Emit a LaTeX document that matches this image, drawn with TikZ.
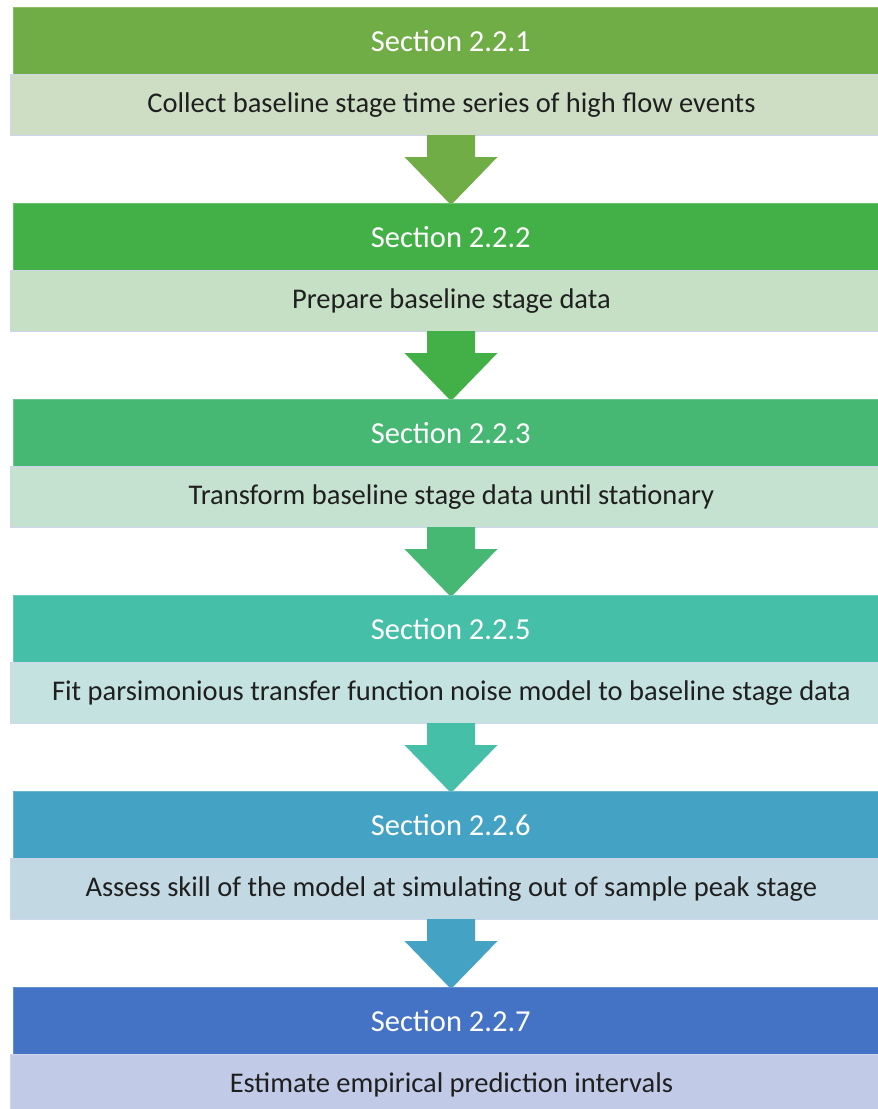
\documentclass[tikz,border=0pt]{standalone}
\usepackage{fontspec}
\setmainfont{Carlito}
\usetikzlibrary{calc}

% header colours, green to blue
\definecolor{hA}{RGB}{112,173,71}
\definecolor{hB}{RGB}{66,176,70}
\definecolor{hC}{RGB}{70,184,116}
\definecolor{hD}{RGB}{69,191,168}
\definecolor{hE}{RGB}{68,162,196}
\definecolor{hF}{RGB}{68,114,196}
% body tints
\definecolor{bA}{RGB}{205,222,196}
\definecolor{bB}{RGB}{197,224,197}
\definecolor{bC}{RGB}{197,225,207}
\definecolor{bD}{RGB}{196,226,223}
\definecolor{bE}{RGB}{194,216,226}
\definecolor{bF}{RGB}{193,202,230}
\definecolor{bodyedge}{RGB}{208,212,236}

\tikzset{
  header/.style={rectangle, anchor=north west, inner sep=0pt,
    minimum width=865pt, minimum height=67pt, fill=#1, draw=#1!80!white,
    line width=0.6pt, text=white, font=\fontsize{30.5}{36}\selectfont,
    execute at begin node=\hspace*{10pt}},
  bodybox/.style={rectangle, anchor=north west, inner sep=0pt,
    minimum width=868pt, minimum height=61pt, fill=#1, draw=bodyedge,
    line width=0.8pt, text=black!88, font=\fontsize{28.5}{34}\selectfont,
    execute at begin node=\hspace*{14pt}},
  downarrow/.style={fill=#1},
}

\begin{document}
\begin{tikzpicture}[x=1pt,y=-1pt]
\useasboundingbox (0,0) rectangle (878,1109);
\clip (0,0) rectangle (878,1109);
\fill[white] (0,0) rectangle (878,1109);

\foreach \i/\hc/\bc/\sec/\txt in {
  0/hA/bA/2.2.1/{Collect baseline stage time series of high flow events},
  1/hB/bB/2.2.2/{Prepare baseline stage data},
  2/hC/bC/2.2.3/{Transform baseline stage data until stationary},
  3/hD/bD/2.2.5/{Fit parsimonious transfer function noise model to baseline stage data},
  4/hE/bE/2.2.6/{Assess skill of the model at simulating out of sample peak stage},
  5/hF/bF/2.2.7/{Estimate empirical prediction intervals}} {
  \pgfmathsetmacro{\top}{7+196*\i}
  \node[header=\hc] (h\i) at (13,\top) {Section \sec};
  \node[bodybox=\bc] (b\i) at (10,\top+67) {\txt};
  \ifnum\i<5
    % block arrow below the body box
    \coordinate (a\i) at (451,\top+128);
    \fill[downarrow=\hc] ($(a\i)+(-24,0)$) -- ($(a\i)+(24,0)$) -- ($(a\i)+(24,22)$)
      -- ($(a\i)+(46.5,22)$) -- ($(a\i)+(0,70)$) -- ($(a\i)+(-46.5,22)$)
      -- ($(a\i)+(-24,22)$) -- cycle;
  \fi
}
\end{tikzpicture}
\end{document}
